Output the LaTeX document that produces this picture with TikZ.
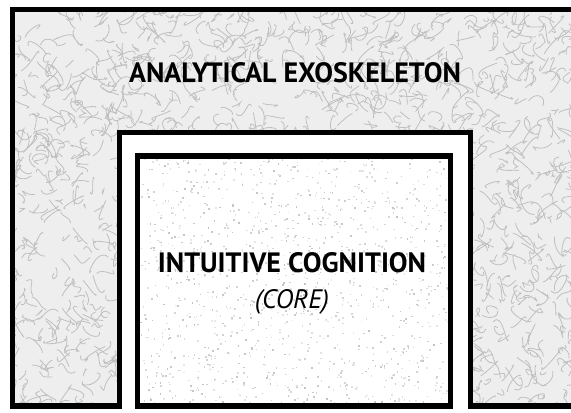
\documentclass[tikz,border=0pt]{standalone}
\usepackage{fontspec}
\setmainfont{PT Sans}
\usetikzlibrary{positioning}
\tikzset{
  outline/.style = {draw = black, line width = 3.9pt, line join = miter},
  marble/.style = {draw = gray!50, line width = 0.6pt},
  title/.style = {font = \bfseries\fontsize{21}{24}\selectfont, inner sep = 0pt},
  note/.style = {font = \itshape\fontsize{20}{24}\selectfont, inner sep = 0pt},
  node distance = 12pt
}

\begin{document}
\begin{tikzpicture}[x = 0.75pt, y = -0.75pt]
  \useasboundingbox (0, 0) rectangle (571, 413);
  \clip (0, 0) rectangle (571, 413);
  \pgfmathsetseed{17}
  % exoskeleton (marbled)
  \def\shell{(12.5, 406) -- (12.5, 9.5) -- (600, 9.5) -- (600, 406)
    -- (470.5, 406) -- (470.5, 132.5) -- (119.5, 132.5) -- (119.5, 406) -- cycle}
  \fill [gray!13] \shell;
  \begin{scope}
    \clip \shell;
    \foreach \i in {1, ..., 1700} {
      \pgfmathsetmacro \x { rnd * 580 };
      \pgfmathsetmacro \y { rnd * 413 };
      \draw [marble] (\x, \y) .. controls +(rand * 12, rand * 12)
        and +(rand * 12, rand * 12) .. +(rand * 18, rand * 18);
    }
  \end{scope}
  \draw [outline] \shell;
  % core (stippled)
  \fill [white] (137.5, 406) -- (137.5, 156) -- (450.5, 156) -- (450.5, 406) -- cycle;
  \foreach \i in {1, ..., 1300} {
    \pgfmathsetmacro \x { 140 + rnd * 308 };
    \pgfmathsetmacro \y { 158 + rnd * 246 };
    \pgfmathtruncatemacro \g { 18 + rnd * 30 };
    \fill [gray!\g] (\x, \y) rectangle +(1.6, 1.6);
  }
  \draw [outline] (137.5, 406) -- (137.5, 156) -- (450.5, 156) -- (450.5, 406) -- cycle;
  % labels
  \node [title] (exo) at (295, 73) {ANALYTICAL EXOSKELETON};
  \node [title] (core) at (292, 263) {INTUITIVE COGNITION};
  \node [note, below = of core] (tag) {(CORE)};
\end{tikzpicture}
\end{document}
